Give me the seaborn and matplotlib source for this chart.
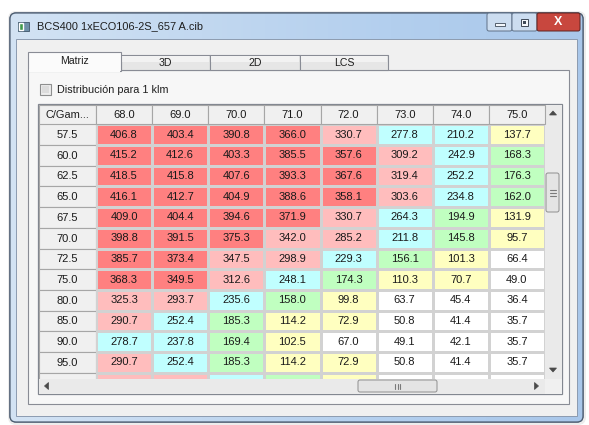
import numpy as np
import pandas as pd
import matplotlib
matplotlib.use("Agg")
import matplotlib.pyplot as plt
import seaborn as sns
from matplotlib.colors import ListedColormap, BoundaryNorm, LinearSegmentedColormap
from matplotlib.patches import Rectangle, FancyBboxPatch, Polygon

# ---------------- data ----------------
window_title = "BCS400 1xECO106-2S_657 A.cib"
tab_labels = ["Matriz", "3D", "2D", "LCS"]
checkbox_label = "Distribución para 1 klm"
corner_label = "C/Gam..."
gamma_labels = ["68.0", "69.0", "70.0", "71.0", "72.0", "73.0", "74.0", "75.0"]
c_labels = ["57.5", "60.0", "62.5", "65.0", "67.5", "70.0", "72.5", "75.0",
            "80.0", "85.0", "90.0", "95.0", "100.0"]

row_57_5 = [406.8, 403.4, 390.8, 366.0, 330.7, 277.8, 210.2, 137.7]
row_60_0 = [415.2, 412.6, 403.3, 385.5, 357.6, 309.2, 242.9, 168.3]
row_62_5 = [418.5, 415.8, 407.6, 393.3, 367.6, 319.4, 252.2, 176.3]
row_65_0 = [416.1, 412.7, 404.9, 388.6, 358.1, 303.6, 234.8, 162.0]
row_67_5 = [409.0, 404.4, 394.6, 371.9, 330.7, 264.3, 194.9, 131.9]
row_70_0 = [398.8, 391.5, 375.3, 342.0, 285.2, 211.8, 145.8, 95.7]
row_72_5 = [385.7, 373.4, 347.5, 298.9, 229.3, 156.1, 101.3, 66.4]
row_75_0 = [368.3, 349.5, 312.6, 248.1, 174.3, 110.3, 70.7, 49.0]
row_80_0 = [325.3, 293.7, 235.6, 158.0, 99.8, 63.7, 45.4, 36.4]
row_85_0 = [290.7, 252.4, 185.3, 114.2, 72.9, 50.8, 41.4, 35.7]
row_90_0 = [278.7, 237.8, 169.4, 102.5, 67.0, 49.1, 42.1, 35.7]
row_95_0 = [290.7, 252.4, 185.3, 114.2, 72.9, 50.8, 41.4, 35.7]
row_100_0 = [325.3, 293.7, 235.6, 158.0, 99.8, 63.7, 45.4, 36.4]

values = [row_57_5, row_60_0, row_62_5, row_65_0, row_67_5, row_70_0, row_72_5,
          row_75_0, row_80_0, row_85_0, row_90_0, row_95_0, row_100_0]

band_colors = ["#FFFFFF", "#FFFFC0", "#C0FFC0", "#C0FFFF", "#FFBDBD", "#FF8080"]

# ---------------- style ----------------
sns.set_theme(style="white")
plt.rcParams["font.family"] = ["Liberation Sans", "DejaVu Sans"]

W, H = 589, 425
fig = plt.figure(figsize=(W / 100, H / 100), dpi=100)
fig.patch.set_facecolor("white")

bg = fig.add_axes([0, 0, 1, 1])
bg.set_xlim(0, W)
bg.set_ylim(H, 0)
bg.axis("off")


def rect(x0, y0, x1, y1, fc, ec="none", lw=0.8, z=1):
    p = Rectangle((x0, y0), x1 - x0, y1 - y0, facecolor=fc, edgecolor=ec, lw=lw, zorder=z)
    bg.add_patch(p)
    return p


def rrect(x0, y0, x1, y1, fc, ec="none", lw=0.8, r=3, z=1):
    p = FancyBboxPatch((x0, y0), x1 - x0, y1 - y0,
                       boxstyle=f"round,pad=0,rounding_size={r}",
                       facecolor=fc, edgecolor=ec, lw=lw, zorder=z)
    bg.add_patch(p)
    return p


# window shadow + frame
rrect(8, 11, 586, 425, "#EDEDED", z=0.5, r=8)
frame = rrect(10, 13, 583, 422, "#BCD3EE", ec="#4E5E72", lw=0.9, r=6, z=1)
grad = np.linspace(0, 1, 200)[None, :]
fcm = LinearSegmentedColormap.from_list("f", ["#D3E3F4", "#C2D8F0", "#B3CFEE", "#A9C7EA"])
im = bg.imshow(grad, cmap=fcm, extent=(10, 583, 422, 13), aspect="auto", zorder=1.1)
im.set_clip_path(frame)
rrect(10, 13, 583, 422, "none", ec="#4E5E72", lw=0.9, r=6, z=1.2)

# title bar
bg.add_patch(Rectangle((18, 22), 11, 9, facecolor="#6E8FA8", edgecolor="#3E5468", lw=0.6, zorder=3))
bg.add_patch(Rectangle((19, 23), 4, 7, facecolor="#3F9A4C", zorder=3.1))
bg.text(37, 26.5, window_title, fontsize=7.9, color="#1E1E1E", va="center", ha="left", zorder=4)

# caption buttons
rrect(487, 13, 512, 31, "#CCDDF0", ec="#5F7188", lw=0.7, r=2, z=3)
rrect(512, 13, 537, 31, "#CCDDF0", ec="#5F7188", lw=0.7, r=2, z=3)
rrect(537, 13, 580, 31, "#C8473E", ec="#5E2320", lw=0.7, r=2, z=3)
rect(495, 23, 505, 25.5, "#F4F8FC", ec="#3F4A58", lw=0.6, z=4)
rect(521, 18.5, 528, 25.5, "#F4F8FC", ec="#3F4A58", lw=0.7, z=4)
rect(522.8, 20.5, 526.2, 23.5, "#3F4A58", z=4.1)
bg.text(558.5, 21.5, "X", fontsize=9, fontweight="bold", color="white", ha="center",
        va="center", zorder=4)

# client area
rect(16, 39, 577, 416, "#F0F0F0", ec="#8C9BB0", lw=0.7, z=2)

# tab panel
rect(28, 70, 569, 404, "#F7F7F7", ec="#898C95", lw=0.8, z=2.2)
tab_x = [28, 121, 210, 300, 388]
for i, lab in enumerate(tab_labels):
    x0, x1 = tab_x[i], tab_x[i + 1]
    if i == 0:
        rect(x0, 52, x1, 71, "#FBFBFB", ec="#898C95", lw=0.8, z=2.6)
        rect(x0 + 0.6, 69, x1 - 0.6, 72, "#FBFBFB", z=2.7)
        bg.text((x0 + x1) / 2, 61, lab, fontsize=7.6, ha="center", va="center",
                color="#1E1E1E", zorder=3)
    else:
        rect(x0, 55, x1, 70, "#E6E6E6", ec="#898C95", lw=0.8, z=2.4)
        rect(x0 + 1, 56, x1 - 1, 62, "#F2F2F2", z=2.45)
        bg.text((x0 + x1) / 2, 62.5, lab, fontsize=7.6, ha="center", va="center",
                color="#1E1E1E", zorder=3)

# checkbox
rect(40, 84, 51, 95, "#EDEDED", ec="#8E8F8F", lw=0.8, z=3)
rect(42, 86, 49, 93, "#DCDCDC", z=3.1)
bg.text(57, 89.5, checkbox_label, fontsize=7.8, ha="left", va="center",
        color="#1E1E1E", zorder=3)

# table frame
T_L, T_T, T_R, T_B = 38, 104, 562, 394
HDR_R, DATA_T, DATA_R, DATA_B = 96, 124.3, 545, 379
ROW_H = 20.7
rect(T_L, T_T, T_R, T_B, "white", ec="#828790", lw=0.9, z=3)

# scrollbars
rect(DATA_R, T_T + 0.5, T_R - 0.5, DATA_B, "#EAEAEA", z=3.2)
rect(T_L + 0.5, DATA_B, DATA_R, T_B - 0.5, "#EAEAEA", z=3.2)
rect(DATA_R, DATA_B, T_R - 0.5, T_B - 0.5, "#F0F0F0", z=3.2)
bg.add_patch(Polygon([(549.5, 115), (556.5, 115), (553, 111)], closed=True,
                     facecolor="#4A4A4A", edgecolor="#4A4A4A", lw=0.5, zorder=3.5))
bg.add_patch(Polygon([(549.5, 368), (556.5, 368), (553, 372)], closed=True,
                     facecolor="#4A4A4A", edgecolor="#4A4A4A", lw=0.5, zorder=3.5))
rrect(546, 173, 559, 212, "#E4E4E4", ec="#8F8F8F", lw=0.7, r=2, z=3.4)
for yy in (189.5, 192.5, 195.5):
    bg.plot([550, 556], [yy, yy], color="#7A7A7A", lw=0.8, zorder=3.5)
bg.add_patch(Polygon([(44.5, 386), (48.5, 382.5), (48.5, 389.5)], closed=True,
                     facecolor="#4A4A4A", edgecolor="#4A4A4A", lw=0.5, zorder=3.5))
bg.add_patch(Polygon([(538.5, 386), (534.5, 382.5), (534.5, 389.5)], closed=True,
                     facecolor="#4A4A4A", edgecolor="#4A4A4A", lw=0.5, zorder=3.5))
rrect(358, 380, 437, 392, "#E4E4E4", ec="#8F8F8F", lw=0.7, r=2, z=3.4)
for xx in (395, 397.5, 400):
    bg.plot([xx, xx], [383.5, 388.5], color="#7A7A7A", lw=0.8, zorder=3.5)

# corner header cell
rect(T_L + 0.5, T_T + 0.5, HDR_R, DATA_T, "#F0F0F0", ec="#A6A6A6", lw=0.8, z=3.3)
bg.text((T_L + HDR_R) / 2, (T_T + DATA_T) / 2 + 0.5, corner_label, fontsize=7.9,
        ha="center", va="center", color="#1E1E1E", zorder=3.6)

# ---------------- heatmap ----------------
df = pd.DataFrame(values, index=c_labels, columns=gamma_labels)
vmax = df.values.max()
bounds = list(vmax * np.arange(6) / 6) + [vmax * 1.5]
cmap = ListedColormap(band_colors)
norm = BoundaryNorm(bounds, cmap.N)

n_vis = (DATA_B - DATA_T) / ROW_H
ax = fig.add_axes([HDR_R / W, 1 - DATA_B / H, (DATA_R - HDR_R) / W, (DATA_B - DATA_T) / H])
sns.heatmap(df, ax=ax, cmap=cmap, norm=norm, annot=True, fmt=".1f", cbar=False,
            linewidths=1.0, linecolor="#D2D2D2", xticklabels=False, yticklabels=False,
            annot_kws={"fontsize": 8.0, "color": "#1A1A1A"})
ax.set_ylim(n_vis, 0)
for t in ax.texts:
    if t.get_position()[1] + 0.5 > n_vis:
        t.set_visible(False)
ax.set_xlabel("")
ax.set_ylabel("")

# row header column
axr = fig.add_axes([(T_L + 0.5) / W, 1 - DATA_B / H, (HDR_R - T_L - 0.5) / W, (DATA_B - DATA_T) / H])
axr.set_xlim(0, 1)
axr.set_ylim(n_vis, 0)
axr.axis("off")
for i, lab in enumerate(c_labels):
    axr.add_patch(Rectangle((0, i), 1, 1, facecolor="#F0F0F0", edgecolor="#A6A6A6",
                            lw=0.8, clip_on=True))
    if i + 1 <= n_vis:
        axr.text(0.5, i + 0.52, lab, fontsize=8.0, ha="center", va="center",
                 color="#1A1A1A")

# column header row
axc = fig.add_axes([HDR_R / W, 1 - DATA_T / H, (DATA_R - HDR_R) / W, (DATA_T - T_T - 0.5) / H])
axc.set_xlim(0, len(gamma_labels))
axc.set_ylim(1, 0)
axc.axis("off")
for j, lab in enumerate(gamma_labels):
    axc.add_patch(Rectangle((j, 0), 1, 1, facecolor="#F0F0F0", edgecolor="#A6A6A6",
                            lw=0.8, clip_on=False))
    axc.text(j + 0.5, 0.52, lab, fontsize=8.0, ha="center", va="center", color="#1A1A1A")

fig.savefig("out.png", dpi=100)
